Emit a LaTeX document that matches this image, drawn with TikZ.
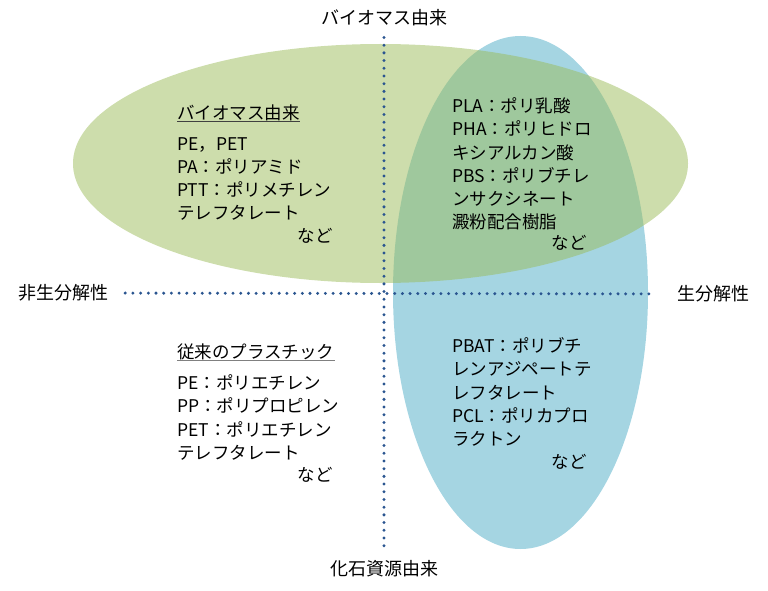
\documentclass[tikz,border=0pt]{standalone}
\usepackage{fontspec}
\setmainfont{Noto Sans CJK JP}
\usetikzlibrary{positioning}
\definecolor{bioblue}{HTML}{4BACC6}
\definecolor{biogreen}{HTML}{9BBB59}
\definecolor{axisblue}{HTML}{2A5590}

\begin{document}
\begin{tikzpicture}[x=1pt,y=-1pt,
    axislabel/.style={inner sep=0pt, font=\fontsize{18}{22}\selectfont},
    axisline/.style={axisblue, line width=3.3pt, line cap=round, dash pattern=on 0pt off 7.7pt},
    blocktext/.style={inner sep=0pt, align=left, anchor=west, font=\fontsize{17.5}{23.2}\selectfont},
    heading/.style={inner sep=0pt, anchor=west, font=\fontsize{17.5}{22}\selectfont},
    etc/.style={inner sep=0pt, anchor=east, font=\fontsize{17.5}{22}\selectfont}]
    \useasboundingbox (0,0) rectangle (768,591);

    % Ellipses
    \fill [bioblue, fill opacity=.5] (520.5,292.5) ellipse [x radius=127.5, y radius=256.5];
    \fill [biogreen, fill opacity=.5] (380.5,163.5) ellipse [x radius=307.5, y radius=119.5];

    % Axes
    \node [axislabel] (bio) at (384,18) {バイオマス由来};
    \node [axislabel] (fossil) at (384,569) {化石資源由来};
    \node [axislabel] (nonbio) at (63,293) {非生分解性};
    \node [axislabel] (biodeg) at (713,294) {生分解性};

    \draw [axisline, shorten <=11pt, shorten >=10pt] (bio) -- (fossil);
    \draw [axisline, shorten <=17pt, shorten >=22pt] (nonbio) -- (biodeg);

    % Top left
    \node [heading] (tltitle) at (177,113) {バイオマス由来};
    \draw [black!75, line width=1pt] (tltitle.south west) -- (tltitle.south east);
    \node [blocktext] (tlbody) at (177,179) {PE，PET\\PA：ポリアミド\\PTT：ポリメチレン\\テレフタレート};
    \node [etc] (tletc) at (333,236) {など};

    % Top right
    \node [blocktext] (trbody) at (452,164) {PLA：ポリ乳酸\\PHA：ポリヒドロ\\キシアルカン酸\\PBS：ポリブチレ\\ンサクシネート\\澱粉配合樹脂};
    \node [etc] (tretc) at (587,243) {など};

    % Bottom left
    \node [heading] (bltitle) at (177,352) {従来のプラスチック};
    \draw [black!50, line width=1.5pt] (bltitle.south west) -- (bltitle.south east);
    \node [blocktext] (blbody) at (177,417.5) {PE：ポリエチレン\\PP：ポリプロピレン\\PET：ポリエチレン\\テレフタレート};
    \node [etc] (bletc) at (333,475) {など};

    % Bottom right
    \node [blocktext] (brbody) at (452,392) {PBAT：ポリブチ\\レンアジペートテ\\レフタレート\\PCL：ポリカプロ\\ラクトン};
    \node [etc] (bretc) at (587,462) {など};
\end{tikzpicture}
\end{document}
